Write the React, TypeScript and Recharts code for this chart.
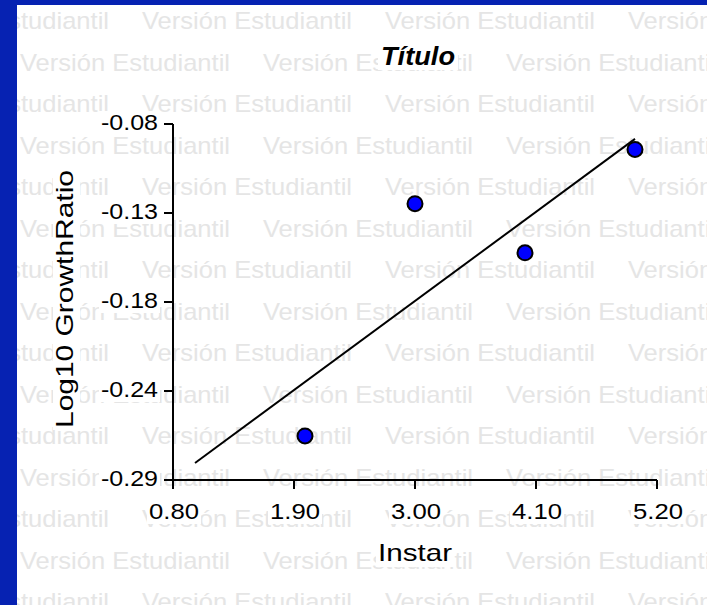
import React from "react";
import { ScatterChart, Scatter, XAxis, YAxis } from "recharts";

// values
const INSTAR = [2.0, 3.0, 4.0, 5.0];
const LOG_GROWTH = [-0.264, -0.127, -0.156, -0.095];
const FIT_X = [1.0, 5.0];
const FIT_Y = [-0.28, -0.0888];

const X_TICKS = [0.8, 1.9, 3.0, 4.1, 5.2];
const X_TICK_LABELS = ["0.80", "1.90", "3.00", "4.10", "5.20"];
const Y_TICKS = [-0.08, -0.1325, -0.185, -0.2375, -0.29];
const Y_TICK_LABELS = ["-0.08", "-0.13", "-0.18", "-0.24", "-0.29"];

const TITLE = "Título";
const X_TITLE = "Instar";
const Y_TITLE = "Log10 GrowthRatio";
const WATERMARK = "Versión Estudiantil";

const W = 707;
const H = 605;
const FONT = "Arial, 'Liberation Sans', sans-serif";
const FRAME = "#0622b2";
const MARK = "#e5e5e5";

const points = INSTAR.map((x, i) => ({ x, y: LOG_GROWTH[i] }));
const fit = FIT_X.map((x, i) => ({ x, y: FIT_Y[i] }));

const Watermark = () => {
  const rows = [];
  for (let k = 0; k < 15; k++) {
    const y = 29 + 41.5 * k;
    const x0 = k % 2 === 0 ? -101 : 20;
    for (let j = 0; x0 + 243 * j < W; j++) {
      rows.push(
        <text
          key={`${k}-${j}`}
          x={x0 + 243 * j}
          y={y}
          fontSize={24}
          fontFamily={FONT}
          fill={MARK}
          textLength={210}
          lengthAdjust="spacingAndGlyphs"
        >
          {WATERMARK}
        </text>
      );
    }
  }
  return <g>{rows}</g>;
};

const XTick = (props: any) => {
  const { x, y, payload } = props;
  const idx = X_TICKS.indexOf(payload.value);
  const label = idx >= 0 ? X_TICK_LABELS[idx] : payload.value.toFixed(2);
  const len = 50;
  const left = x + 1 - len / 2;
  const base = y + 28;
  return (
    <g>
      <rect x={left - 2} y={base - 19} width={len + 4} height={24} fill="#fff" />
      <text x={left} y={base} fontSize={22} fontFamily={FONT} fill="#000"
        textLength={len} lengthAdjust="spacingAndGlyphs">
        {label}
      </text>
    </g>
  );
};

const YTick = (props: any) => {
  const { x, y, payload } = props;
  const idx = Y_TICKS.indexOf(payload.value);
  const label = idx >= 0 ? Y_TICK_LABELS[idx] : payload.value.toFixed(2);
  const len = 57;
  const left = x - len;
  const base = y + 6;
  return (
    <g>
      <rect x={left - 2} y={base - 19} width={len + 4} height={24} fill="#fff" />
      <text x={left} y={base} fontSize={22} fontFamily={FONT} fill="#000"
        textLength={len} lengthAdjust="spacingAndGlyphs">
        {label}
      </text>
    </g>
  );
};

const XTitle = (props: any) => {
  const vb = props.viewBox || { x: 173, y: 480, width: 484, height: 60 };
  const len = 74;
  const cx = vb.x + vb.width / 2;
  const base = vb.y + 81;
  return (
    <g>
      <rect x={cx - len / 2 - 2} y={base - 21} width={len + 4} height={27} fill="#fff" />
      <text x={cx - len / 2} y={base} fontSize={24} fontFamily={FONT} fill="#000"
        textLength={len} lengthAdjust="spacingAndGlyphs">
        {X_TITLE}
      </text>
    </g>
  );
};

const YTitle = (props: any) => {
  const vb = props.viewBox || { x: 93, y: 124, width: 80, height: 356 };
  const len = 258;
  const cy = vb.y + vb.height / 2 - 3;
  const bx = vb.x - 20;
  return (
    <g transform={`translate(${bx},${cy + len / 2}) rotate(-90)`}>
      <rect x={-2} y={-20} width={len + 4} height={27} fill="#fff" />
      <text x={0} y={0} fontSize={24} fontFamily={FONT} fill="#000"
        textLength={len} lengthAdjust="spacingAndGlyphs">
        {Y_TITLE}
      </text>
    </g>
  );
};

const Dot = (props: any) => (
  <circle cx={props.cx} cy={props.cy} r={7.5} fill="#0000ff" stroke="#000" strokeWidth={2} />
);

export default function App() {
  return (
    <div style={{ position: "absolute", left: 0, top: 0, width: W, height: H, background: "#fff", overflow: "hidden" }}>
      <svg width={W} height={H} style={{ position: "absolute", left: 0, top: 0 }}>
        <Watermark />
        <rect x={378} y={43} width={80} height={27} fill="#fff" />
        <text x={381} y={65} fontSize={25} fontWeight="bold" fontStyle="italic" fontFamily={FONT}
          fill="#000" textLength={74} lengthAdjust="spacingAndGlyphs">
          {TITLE}
        </text>
      </svg>
      <div style={{ position: "absolute", left: 0, top: 0 }}>
        <ScatterChart width={W} height={H} margin={{ top: 124, right: 50, bottom: 65, left: 93 }}>
          <XAxis
            dataKey="x"
            type="number"
            domain={[0.8, 5.2]}
            ticks={X_TICKS}
            allowDataOverflow
            height={60}
            tickSize={9}
            tickMargin={2}
            axisLine={{ stroke: "#000", strokeWidth: 2 }}
            tickLine={{ stroke: "#000", strokeWidth: 2 }}
            tick={<XTick />}
            label={{ content: (p: any) => <XTitle {...p} /> }}
          />
          <YAxis
            dataKey="y"
            type="number"
            domain={[-0.29, -0.08]}
            ticks={Y_TICKS}
            allowDataOverflow
            width={80}
            tickSize={9}
            tickMargin={6}
            axisLine={{ stroke: "#000", strokeWidth: 2 }}
            tickLine={{ stroke: "#000", strokeWidth: 2 }}
            tick={<YTick />}
            label={{ content: (p: any) => <YTitle {...p} /> }}
          />
          <Scatter
            data={fit}
            line={{ stroke: "#000", strokeWidth: 2 }}
            shape={() => <g />}
            isAnimationActive={false}
          />
          <Scatter data={points} shape={<Dot />} isAnimationActive={false} />
        </ScatterChart>
      </div>
      <div style={{ position: "absolute", left: 0, top: 0, width: W, height: 5, background: FRAME }} />
      <div style={{ position: "absolute", left: 0, top: 0, width: 17, height: H, background: FRAME }} />
    </div>
  );
}
